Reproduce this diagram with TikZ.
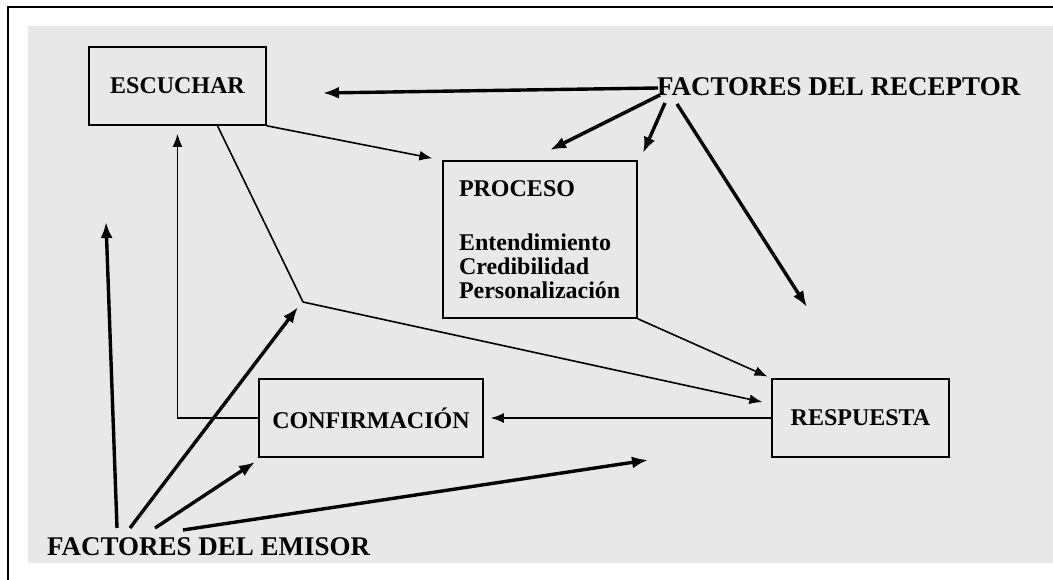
\documentclass[tikz,border=0pt]{standalone}
\usepackage{fontspec}
\setmainfont{Liberation Serif}
\usetikzlibrary{arrows.meta}
\definecolor{paper}{RGB}{232,232,232}
\tikzset{
  box/.style={draw, line width=1.6pt, minimum height=78pt, inner sep=0pt,
    font=\fontsize{24}{24}\selectfont\bfseries},
  factor/.style={inner sep=0pt, font=\fontsize{27}{28}\selectfont\bfseries},
  thinarrow/.style={-{Latex[length=13pt,width=10pt]}, line width=1.6pt},
  thickarrow/.style={-{Latex[length=16pt,width=12pt]}, line width=3.4pt},
}
\begin{document}
\begin{tikzpicture}[x=1pt,y=-1pt]
  \useasboundingbox (0,0) rectangle (1053,580);
  \fill[paper] (28,26) rectangle (1053,563);
  \draw[line width=2pt] (1053,7) -- (8,7) -- (8,580);
  \draw
    (177.5,86) node[box, minimum width=177pt] (esc){ESCUCHAR}
    (540,239.5) node[box, minimum height=157pt, text width=162pt, inner xsep=16pt, align=left] (proc){PROCESO\\[30pt]Entendimiento\\Credibilidad\\Personalización}
    (371,418) node[box, minimum width=224pt] (conf){CONFIRMACIÓN}
    (860.5,418) node[box, minimum width=177pt] (resp){RESPUESTA}
    (657,96) node[factor, anchor=base west] (recep){FACTORES DEL RECEPTOR}
    (47,555) node[factor, anchor=base west] (emis){FACTORES DEL EMISOR};
  \coordinate (j) at (303,302);
  \coordinate (r1) at (658,88);
  \coordinate (r2) at (660,95);
  \coordinate (r3) at (665,103);
  \coordinate (r4) at (677,104);
  \coordinate (rt1) at (323,93);
  \coordinate (rt2) at (550,150);
  \coordinate (rt3) at (643,153);
  \coordinate (rt4) at (807,307);
  \coordinate (e1) at (117,528);
  \coordinate (e2) at (130,528);
  \coordinate (e3) at (155,528);
  \coordinate (e4) at (183,530);
  \coordinate (et1) at (106,222);
  \coordinate (et2) at (298,307);
  \coordinate (et3) at (255,462);
  \coordinate (et4) at (648,460);
  \begin{scope}[thinarrow]
    \draw[shorten >=10pt] (esc.south east) -- (proc.north west);
    \draw[-] ([xshift=40pt]esc.south) -- (j);
    \draw[shorten >=9pt] (j) -- ([yshift=14pt]resp.west);
    \draw[shorten >=4pt] (proc.south east) -- (resp.north west);
    \draw[shorten >=7pt] (resp.west) -- (conf.east);
    \draw[shorten >=8pt] (conf.west) -| (esc.south);
  \end{scope}
  \begin{scope}[thickarrow]
    \draw (r1) -- (rt1);
    \draw (r2) -- (rt2);
    \draw (r3) -- (rt3);
    \draw (r4) -- (rt4);
    \draw (e1) -- (et1);
    \draw (e2) -- (et2);
    \draw (e3) -- (et3);
    \draw (e4) -- (et4);
  \end{scope}
\end{tikzpicture}
\end{document}
